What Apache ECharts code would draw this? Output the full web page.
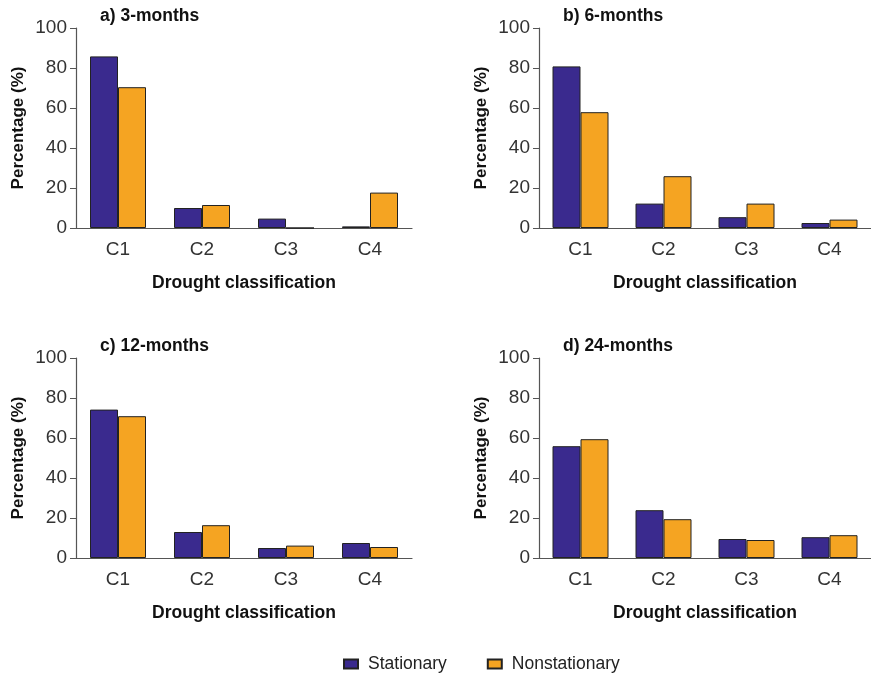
<!DOCTYPE html>
<html>
<head>
<meta charset="utf-8">
<script src="https://cdn.jsdelivr.net/npm/echarts@6/dist/echarts.min.js"></script>
<style>
html,body{margin:0;padding:0;background:#fff;}
#chart{width:871px;height:675px;}
</style>
</head>
<body>
<div id="chart"></div>
<script>
const categories = ['C1', 'C2', 'C3', 'C4'];
const panelTitles = ['a) 3-months', 'b) 6-months', 'c) 12-months', 'd) 24-months'];
const yTicks = [0, 20, 40, 60, 80, 100];
const stationary3 = [85.8, 10.0, 4.7, 0.8];
const nonstationary3 = [70.4, 11.5, 0, 17.7];
const stationary6 = [80.8, 12.2, 5.4, 2.5];
const nonstationary6 = [57.9, 25.9, 12.2, 4.2];
const stationary12 = [74.2, 13.0, 5.0, 7.5];
const nonstationary12 = [70.9, 16.4, 6.2, 5.5];
const stationary24 = [55.9, 23.9, 9.5, 10.4];
const nonstationary24 = [59.4, 19.4, 9.0, 11.4];

const stationarySets = [stationary3, stationary6, stationary12, stationary24];
const nonstationarySets = [nonstationary3, nonstationary6, nonstationary12, nonstationary24];

const blue = '#3a2a8e';
const orange = '#f5a422';
const font = 'Liberation Sans, Arial, sans-serif';

const gridPos = [
  {left: 76, top: 28, width: 336, height: 200},
  {left: 539, top: 28, width: 336, height: 200},
  {left: 76, top: 358, width: 336, height: 200},
  {left: 539, top: 358, width: 336, height: 200}
];
const titlePos = [
  {left: 100, top: 7},
  {left: 563, top: 7},
  {left: 100, top: 337},
  {left: 563, top: 337}
];

const option = {
  animation: false,
  backgroundColor: '#fff',
  title: panelTitles.map((t, i) => ({
    text: t, left: titlePos[i].left, top: titlePos[i].top, padding: 0,
    textStyle: {fontFamily: font, fontWeight: 'bold', fontSize: 17.5, color: '#111'}
  })),
  legend: {
    top: 650, left: 338, itemWidth: 14, itemHeight: 9, itemGap: 40,
    icon: 'rect',
    textStyle: {fontFamily: font, fontSize: 17.5, color: '#222', padding: [0, 0, 0, 5]},
    data: ['Stationary', 'Nonstationary']
  },
  grid: gridPos.map(g => Object.assign({containLabel: false}, g)),
  xAxis: gridPos.map((g, i) => ({
    type: 'category', gridIndex: i, data: categories, boundaryGap: true,
    name: 'Drought classification', nameLocation: 'middle', nameGap: 46,
    nameTextStyle: {fontFamily: font, fontWeight: 'bold', fontSize: 17.5, color: '#111'},
    axisLine: {show: true, lineStyle: {color: '#555', width: 1.2}},
    axisTick: {show: false},
    axisLabel: {fontFamily: font, fontSize: 19, color: '#333', margin: 12}
  })),
  yAxis: gridPos.map((g, i) => ({
    type: 'value', gridIndex: i, min: 0, max: 100, interval: 20,
    name: 'Percentage (%)', nameLocation: 'middle', nameGap: 49,
    nameTextStyle: {fontFamily: font, fontWeight: 'bold', fontSize: 17, color: '#111'},
    axisLine: {show: true, lineStyle: {color: '#555', width: 1.2}},
    axisTick: {show: true, length: 6, lineStyle: {color: '#555'}},
    splitLine: {show: false},
    axisLabel: {fontFamily: font, fontSize: 19, color: '#333', margin: 9,
      formatter: v => yTicks.includes(v) ? String(v) : ''}
  })),
  series: []
};

for (let i = 0; i < 4; i++) {
  option.series.push({
    name: 'Stationary', type: 'bar', xAxisIndex: i, yAxisIndex: i,
    data: stationarySets[i], barWidth: 28, barGap: '0%',
    itemStyle: {color: blue, borderColor: '#222', borderWidth: 1}
  });
  option.series.push({
    name: 'Nonstationary', type: 'bar', xAxisIndex: i, yAxisIndex: i,
    data: nonstationarySets[i], barWidth: 28, barGap: '0%',
    itemStyle: {color: orange, borderColor: '#222', borderWidth: 1}
  });
}

const chart = echarts.init(document.getElementById('chart'), null, {renderer: 'canvas'});
chart.setOption(option);
</script>
</body>
</html>
